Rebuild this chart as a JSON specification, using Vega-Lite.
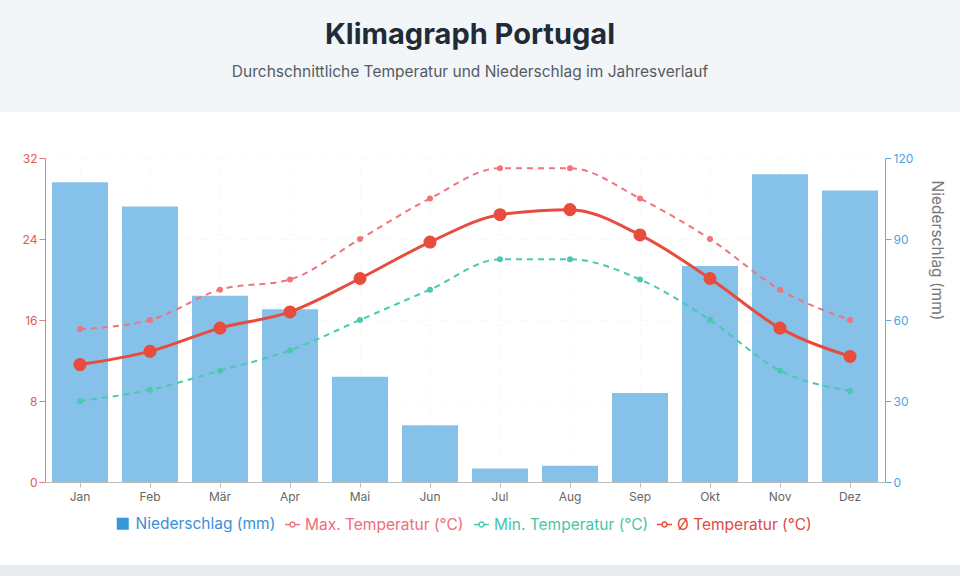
{
  "$schema": "https://vega.github.io/schema/vega-lite/v6.json",
  "background": "#ffffff",
  "padding": 0,
  "bounds": "flush",
  "spacing": 46,
  "config": {
    "font": "Inter",
    "view": {"stroke": null},
    "axis": {"labelFont": "Inter", "titleFont": "Inter"},
    "legend": {
      "labelFont": "Inter",
      "labelFontSize": 15.5,
      "labelOffset": 4,
      "labelLimit": 400,
      "title": null,
      "orient": "none",
      "direction": "horizontal",
      "symbolOpacity": 1,
      "symbolStrokeWidth": 1.5,
      "symbolFillColor": "#ffffff"
    }
  },
  "vconcat": [
    {
      "width": 960,
      "height": 112,
      "view": {"fill": "#f2f6f9", "stroke": null},
      "data": {"values": []},
      "mark": "rule",
      "encoding": {},
      "title": {
        "text": "Klimagraph Portugal",
        "subtitle": "Durchschnittliche Temperatur und Niederschlag im Jahresverlauf",
        "anchor": "middle",
        "frame": "group",
        "offset": -80,
        "dx": -10,
        "font": "Inter",
        "fontSize": 29,
        "fontWeight": 700,
        "color": "#1f2b37",
        "subtitleFont": "Inter",
        "subtitleFontSize": 15.5,
        "subtitleColor": "#555b61",
        "subtitlePadding": 15
      }
    },
    {
      "bounds": "flush",
      "spacing": 0,
      "hconcat": [
        {
          "width": 45,
          "height": 324,
          "data": {"values": []},
          "mark": "rule",
          "encoding": {}
        },
        {
          "width": 840,
          "height": 324,
          "data": {
            "values": [
              {"monat": "Jan", "niederschlag": 111, "tmax": 15.1, "tmin": 8.0, "tavg": 11.6},
              {"monat": "Feb", "niederschlag": 102, "tmax": 16.0, "tmin": 9.1, "tavg": 12.9},
              {"monat": "Mär", "niederschlag": 69, "tmax": 19.0, "tmin": 11.0, "tavg": 15.2},
              {"monat": "Apr", "niederschlag": 64, "tmax": 20.0, "tmin": 13.0, "tavg": 16.8},
              {"monat": "Mai", "niederschlag": 39, "tmax": 24.0, "tmin": 16.0, "tavg": 20.1},
              {"monat": "Jun", "niederschlag": 21, "tmax": 28.0, "tmin": 19.0, "tavg": 23.7},
              {"monat": "Jul", "niederschlag": 5, "tmax": 31.0, "tmin": 22.0, "tavg": 26.4},
              {"monat": "Aug", "niederschlag": 6, "tmax": 31.0, "tmin": 22.0, "tavg": 26.9},
              {"monat": "Sep", "niederschlag": 33, "tmax": 28.0, "tmin": 20.0, "tavg": 24.4},
              {"monat": "Okt", "niederschlag": 80, "tmax": 24.0, "tmin": 16.0, "tavg": 20.1},
              {"monat": "Nov", "niederschlag": 114, "tmax": 19.0, "tmin": 11.0, "tavg": 15.2},
              {"monat": "Dez", "niederschlag": 108, "tmax": 16.0, "tmin": 9.0, "tavg": 12.4}
            ]
          },
          "encoding": {
            "x": {
              "field": "monat",
              "type": "ordinal",
              "sort": null,
              "scale": {"paddingInner": 0.2, "paddingOuter": 0.1},
              "axis": {
                "title": null,
                "labelAngle": 0,
                "labelColor": "#666666",
                "labelFontSize": 12,
                "labelPadding": 4,
                "tickColor": "#bbbbbb",
                "tickSize": 5,
                "domainColor": "#bbbbbb",
                "grid": true,
                "gridColor": "#f5f5f5",
                "gridDash": [2, 3],
                "bandPosition": 0.5
              }
            }
          },
          "layer": [
            {
              "mark": {"type": "bar", "opacity": 0.6},
              "encoding": {
                "y": {
                  "field": "niederschlag",
                  "type": "quantitative",
                  "scale": {"domain": [0, 120], "nice": false},
                  "axis": {
                    "orient": "right",
                    "title": "Niederschlag (mm)",
                    "titleColor": "#777777",
                    "titleFontSize": 15.5,
                    "titleFontWeight": 400,
                    "titlePadding": 16,
                    "titleY": 92,
                    "titleAlign": "center",
                    "values": [0, 30, 60, 90, 120],
                    "labelColor": "#4aa3df",
                    "labelFontSize": 12,
                    "tickColor": "#5dade2",
                    "domainColor": "#5dade2",
                    "tickSize": 6,
                    "grid": false
                  }
                },
                "fill": {
                  "datum": "Niederschlag (mm)",
                  "type": "nominal",
                  "scale": {"range": ["#3498db"]},
                  "legend": {
                    "legendX": 115,
                    "legendY": 516,
                    "symbolType": "square",
                    "symbolSize": 144,
                    "symbolStrokeWidth": 0,
                    "labelOffset": 5,
                    "labelColor": "#3a8fd6"
                  }
                }
              }
            },
            {
              "encoding": {
                "y": {
                  "type": "quantitative",
                  "scale": {"domain": [0, 32], "nice": false},
                  "axis": {
                    "orient": "left",
                    "title": null,
                    "values": [0, 8, 16, 24, 32],
                    "labelColor": "#e05a5a",
                    "labelFontSize": 12,
                    "tickColor": "#ec7a7a",
                    "domainColor": "#ec7a7a",
                    "tickSize": 6,
                    "grid": true,
                    "gridColor": "#f5f5f5",
                    "gridDash": [2, 3]
                  }
                }
              },
              "layer": [
                {
                  "mark": {"type": "line", "interpolate": "monotone", "strokeWidth": 2, "strokeDash": [6, 5]},
                  "encoding": {
                    "y": {"field": "tmax", "type": "quantitative"},
                    "stroke": {
                      "datum": "Max. Temperatur (°C)",
                      "type": "nominal",
                      "scale": {"range": ["#f1737b"]},
                      "legend": {
                        "legendX": 284,
                        "legendY": 516,
                        "symbolType": "M-1,0H-0.33M0.33,0H1M-0.33,0A0.33,0.33 0 1,1 0.33,0A0.33,0.33 0 1,1 -0.33,0Z",
                        "symbolSize": 225,
                        "labelColor": "#f06d74"
                      }
                    }
                  }
                },
                {
                  "mark": {"type": "point", "filled": true, "size": 36, "opacity": 1},
                  "encoding": {
                    "y": {"field": "tmax", "type": "quantitative"},
                    "color": {"value": "#f1737b"}
                  }
                },
                {
                  "mark": {"type": "line", "interpolate": "monotone", "strokeWidth": 2, "strokeDash": [6, 5]},
                  "encoding": {
                    "y": {"field": "tmin", "type": "quantitative"},
                    "color": {
                      "datum": "Min. Temperatur (°C)",
                      "type": "nominal",
                      "scale": {"range": ["#48c9b0"]},
                      "legend": {
                        "legendX": 473,
                        "legendY": 516,
                        "symbolType": "M-1,0H-0.33M0.33,0H1M-0.33,0A0.33,0.33 0 1,1 0.33,0A0.33,0.33 0 1,1 -0.33,0Z",
                        "symbolSize": 225,
                        "labelColor": "#46c6a8"
                      }
                    }
                  }
                },
                {
                  "mark": {"type": "point", "filled": true, "size": 36, "opacity": 1},
                  "encoding": {
                    "y": {"field": "tmin", "type": "quantitative"},
                    "color": {"value": "#48c9b0"}
                  }
                },
                {
                  "mark": {"type": "line", "interpolate": "monotone", "strokeWidth": 3, "color": "#e74c3c"},
                  "encoding": {
                    "y": {"field": "tavg", "type": "quantitative"},
                    "opacity": {
                      "datum": "Ø Temperatur (°C)",
                      "type": "nominal",
                      "scale": {"type": "ordinal", "range": [1]},
                      "legend": {
                        "legendX": 656,
                        "legendY": 516,
                        "symbolType": "M-1,0H-0.33M0.33,0H1M-0.33,0A0.33,0.33 0 1,1 0.33,0A0.33,0.33 0 1,1 -0.33,0Z",
                        "symbolSize": 225,
                        "symbolStrokeColor": "#e74c3c",
                        "labelColor": "#e04b3a"
                      }
                    }
                  }
                },
                {
                  "mark": {"type": "point", "filled": true, "size": 170, "opacity": 1},
                  "encoding": {
                    "y": {"field": "tavg", "type": "quantitative"},
                    "color": {"value": "#e74c3c"}
                  }
                }
              ]
            }
          ],
          "resolve": {"scale": {"y": "independent"}, "axis": {"y": "independent"}}
        }
      ]
    },
    {
      "width": 960,
      "height": 315,
      "data": {"values": []},
      "mark": "rule",
      "encoding": {}
    },
    {
      "width": 960,
      "height": 11,
      "view": {"fill": "#e8ecef", "stroke": null},
      "data": {"values": []},
      "mark": "rule",
      "encoding": {}
    }
  ]
}
